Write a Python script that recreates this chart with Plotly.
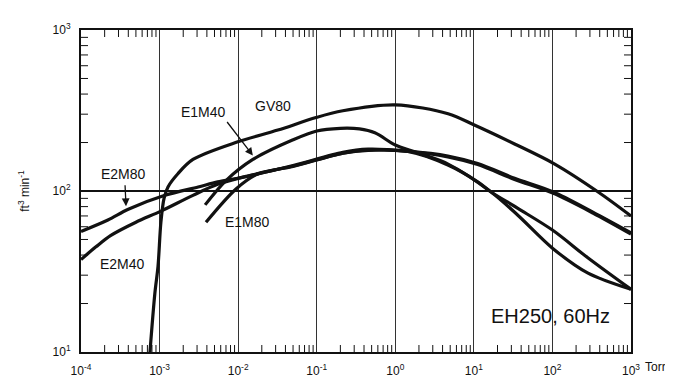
import numpy as np
import plotly.graph_objects as go

# ---------------- data ----------------
GV80_x = [7.55e-4, 8.7e-4, 9.55e-4, 1.04e-3, 1.14e-3, 1.28e-3, 1.71e-3, 2.66e-3, 9.9e-3,
          0.032, 0.098, 0.215, 1.0, 4.7, 10.3, 33, 107, 378, 1000]
GV80_y = [10, 23, 34, 64, 90, 106, 128, 157, 202,
          239, 286, 315, 343, 302, 256, 196, 147, 99, 70]

E1M40_x = [3.8e-3, 7.0e-3, 0.0154, 0.05, 0.1, 0.2, 0.35, 0.55, 1.0, 1.9, 4.7, 16.4, 36, 101, 280, 1000]
E1M40_y = [82, 116, 157, 208, 236, 245, 243, 230, 193, 173, 147, 99, 71, 44, 31, 24.5]

E2M40_x = [1e-4, 1.55e-4, 2.4e-4, 5e-4, 1.04e-3, 2.66e-3, 5.5e-3, 0.0133, 0.05, 0.215, 0.45,
           1.45, 4.67, 11.2, 16.4, 36.3, 101, 282, 1000]
E2M40_y = [37.5, 45, 53, 64, 75, 94, 110, 124, 143, 172, 179,
           176, 145, 114, 99, 78, 57, 38.5, 24.5]

E2M80_x = [1e-4, 2.2e-4, 4e-4, 1.17e-3, 3.1e-3, 5.5e-3, 9.9e-3, 0.05, 0.215, 0.45, 1.45,
           4.67, 11.2, 33, 101, 327, 1000]
E2M80_y = [56, 66, 77, 94, 106, 114, 120, 144, 174, 182, 177,
           165, 148, 120, 99, 74, 55]

E1M80_x = [3.9e-3, 9.4e-3, 0.018, 0.05, 0.215, 0.45, 1.45, 4.67, 11.2, 33, 101, 327, 1000]
E1M80_y = [64, 103, 128, 142, 172, 180, 176, 163, 146, 118, 97, 73, 54]

x_tickvals = [1e-4, 1e-3, 1e-2, 1e-1, 1e0, 1e1, 1e2, 1e3]
x_ticktext = ["10<sup>-4</sup>", "10<sup>-3</sup>", "10<sup>-2</sup>", "10<sup>-1</sup>",
              "10<sup>0</sup>", "10<sup>1</sup>", "10<sup>2</sup>", "10<sup>3</sup>"]
y_tickvals = [10, 100, 1000]
y_ticktext = ["10<sup>1</sup>", "10<sup>2</sup>", "10<sup>3</sup>"]
minor_mult = [2, 3, 4, 5, 6, 7, 8, 9]
x_minor = [m * d for d in x_tickvals[:-1] for m in minor_mult]
y_minor = [m * d for d in y_tickvals[:-1] for m in minor_mult]

# label positions (data coordinates)
labels = [
    ("E1M40", 3.67e-3, 310),
    ("GV80", 0.0277, 338),
    ("E2M80", 3.52e-4, 128),
    ("E2M40", 3.33e-4, 35),
    ("E1M80", 0.0133, 64),
]
# arrows: (tail x, tail y, head x, head y)
arrows = [
    (7.0e-3, 274, 0.0154, 166),
    (3.63e-4, 111, 3.74e-4, 80.5),
]

INK = "#111111"
FONT = "Liberation Sans, Arial, Helvetica, sans-serif"
TICK_LEN = 7

fig = go.Figure()
series = [("GV80", GV80_x, GV80_y), ("E1M40", E1M40_x, E1M40_y),
          ("E2M40", E2M40_x, E2M40_y), ("E2M80", E2M80_x, E2M80_y),
          ("E1M80", E1M80_x, E1M80_y)]
for name, xs, ys in series:
    fig.add_trace(go.Scatter(x=xs, y=ys, mode="lines", name=name,
                             line=dict(color=INK, width=3.2, shape="spline", smoothing=0.9),
                             showlegend=False, hoverinfo="skip"))

annotations = []
for text, lx, ly in labels:
    annotations.append(dict(x=np.log10(lx), y=np.log10(ly), xref="x", yref="y", text=text,
                            showarrow=False, font=dict(family=FONT, size=14, color=INK)))
for tx, ty, hx, hy in arrows:
    annotations.append(dict(x=np.log10(hx), y=np.log10(hy), ax=np.log10(tx), ay=np.log10(ty),
                            xref="x", yref="y", axref="x", ayref="y", text="",
                            showarrow=True, arrowhead=2, arrowsize=1.2, arrowwidth=1.3,
                            arrowcolor=INK))
annotations.append(dict(x=np.log10(95), y=np.log10(16.7), xref="x", yref="y",
                        text="EH250, 60Hz", showarrow=False,
                        font=dict(family=FONT, size=20, color=INK)))
annotations.append(dict(x=1.067, y=-0.074, xref="paper", yref="paper", text="Torr",
                        showarrow=False, font=dict(family=FONT, size=12, color=INK)))

# minor tick marks pointing inward on all four sides, placed through the axis scales
tick_line = dict(color=INK, width=1)
shapes = []
for v in x_minor:
    for anchor, length in ((0, TICK_LEN), (1, -TICK_LEN)):
        shapes.append(dict(type="line", xref="x", yref="paper", ysizemode="pixel",
                           yanchor=anchor, x0=v, x1=v, y0=0, y1=length,
                           line=tick_line, layer="above"))
for v in y_minor:
    for anchor, length in ((0, TICK_LEN), (1, -TICK_LEN)):
        shapes.append(dict(type="line", xref="paper", yref="y", xsizemode="pixel",
                           xanchor=anchor, y0=v, y1=v, x0=0, x1=length,
                           line=tick_line, layer="above"))

fig.update_layout(
    width=673, height=382,
    margin=dict(l=73, r=50, t=22, b=29),
    paper_bgcolor="white", plot_bgcolor="white",
    annotations=annotations,
    shapes=shapes,
    font=dict(family=FONT, color=INK),
    xaxis=dict(
        type="log", range=[-4, 3],
        tickmode="array", tickvals=x_tickvals, ticktext=x_ticktext,
        tickfont=dict(family=FONT, size=12, color=INK),
        showline=True, linecolor=INK, linewidth=2, mirror=True,
        ticks="", showgrid=True, gridcolor="#333333", gridwidth=1,
        ticklabelstandoff=7, zeroline=False,
    ),
    yaxis=dict(
        type="log", range=[1, 3],
        tickmode="array", tickvals=y_tickvals, ticktext=y_ticktext,
        tickfont=dict(family=FONT, size=12, color=INK),
        showline=True, linecolor=INK, linewidth=2, mirror=True,
        ticks="", showgrid=True, gridcolor=INK, gridwidth=2,
        ticklabelstandoff=6, zeroline=False,
        title=dict(text="ft<sup>3</sup> min<sup>-1</sup>",
                   font=dict(family=FONT, size=12, color=INK), standoff=20),
    ),
)

fig.write_html("out.html")
